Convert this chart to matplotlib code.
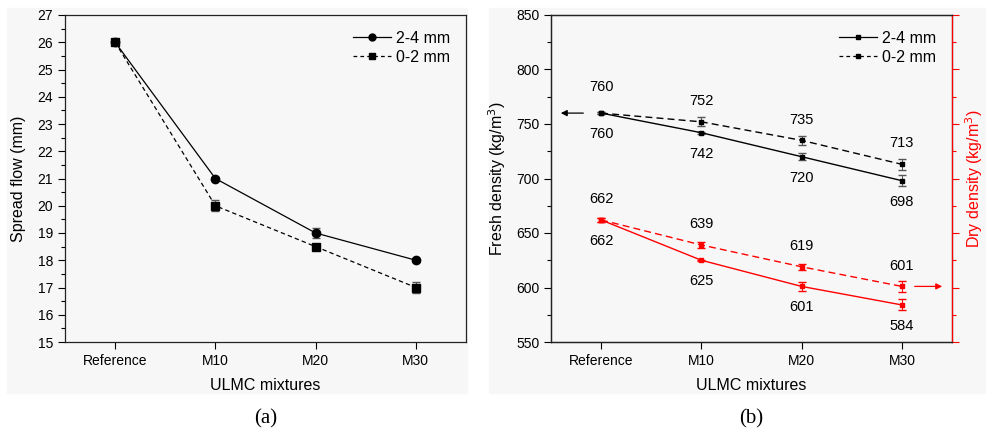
import numpy as np
import matplotlib
matplotlib.use('Agg')
import matplotlib.pyplot as plt
from matplotlib.lines import Line2D
from matplotlib.patches import Rectangle
from matplotlib.ticker import MultipleLocator

matplotlib.rcParams.update({
    'font.family': 'sans-serif',
    'font.sans-serif': ['Liberation Sans', 'DejaVu Sans'],
    'font.size': 10,
    'axes.linewidth': 0.9,
    'axes.edgecolor': '#222222',
    'xtick.direction': 'out',
    'ytick.direction': 'out',
})

# ── Data ─────────────────────────────────────────────────────────────────────
mixtures = ['Reference', 'M10', 'M20', 'M30']

# (a) spread flow, mm
flow_24 = [26.0, 21.0, 19.0, 18.0]
flow_24_err = [0.08, 0.05, 0.2, 0.06]
flow_02 = [26.0, 20.0, 18.5, 17.0]
flow_02_err = [0.08, 0.2, 0.06, 0.2]

# (b) fresh / dry density, kg/m3
fresh_24 = [760, 742, 720, 698]
fresh_24_err = [1, 1, 3, 5]
fresh_02 = [760, 752, 735, 713]
fresh_02_err = [1, 4, 4, 5]
dry_24 = [662, 625, 601, 584]
dry_24_err = [2, 0.5, 4, 5]
dry_02 = [662, 639, 619, 601]
dry_02_err = [2, 3, 3, 5]

RED = '#ff0000'
BG = '#f7f7f7'

fig = plt.figure(figsize=(9.87, 4.29), dpi=100)

# faint grey panel backgrounds (as in the scanned figure)
fig.patches.append(Rectangle((7 / 987, 36 / 429), 460 / 987, 385 / 429,
                             transform=fig.transFigure, color=BG, zorder=-10))
fig.patches.append(Rectangle((489 / 987, 36 / 429), 498 / 987, 385 / 429,
                             transform=fig.transFigure, color=BG, zorder=-10))

axA = fig.add_axes([65 / 987, 87 / 429, 401 / 987, 327 / 429])
axB = fig.add_axes([551 / 987, 87 / 429, 401 / 987, 327 / 429])
for ax in (axA, axB):
    ax.set_facecolor('none')

x = np.arange(len(mixtures))

# ─── Panel (a) ───────────────────────────────────────────────────────────────
axA.errorbar(x, flow_24, yerr=flow_24_err, color='black', lw=0.9, ls='-',
             marker='o', ms=6, capsize=3, elinewidth=0.7, ecolor='#555555')
axA.errorbar(x, flow_02, yerr=flow_02_err, color='black', lw=0.9, ls='--',
             dashes=(3.5, 2.5), marker='s', ms=5.5, capsize=3, elinewidth=0.7,
             ecolor='#555555')
axA.set_xlim(-0.5, 3.5)
axA.set_ylim(15, 27)
axA.yaxis.set_major_locator(MultipleLocator(1))
axA.yaxis.set_minor_locator(MultipleLocator(0.5))
axA.set_xticks(x)
axA.set_xticklabels(mixtures)
axA.tick_params(axis='both', which='major', length=5, width=0.8, labelsize=10)
axA.tick_params(axis='y', which='minor', length=3, width=0.8)
axA.set_xlabel('ULMC mixtures', fontsize=11.5, labelpad=7)
axA.set_ylabel('Spread flow (mm)', fontsize=11.5, labelpad=8)
hA = [Line2D([0], [0], color='black', lw=0.9, marker='o', ms=5, label='2-4 mm'),
      Line2D([0], [0], color='black', lw=0.9, ls='--', dashes=(3, 2.5),
             marker='s', ms=4.5, label='0-2 mm')]
axA.legend(handles=hA, loc='upper right', frameon=False, fontsize=11.5,
           handlelength=2.4, borderaxespad=0.6, labelspacing=0.25,
           handletextpad=0.3)

# ─── Panel (b) ───────────────────────────────────────────────────────────────
axR = axB.twinx()
axR.set_facecolor('none')
kw = dict(marker='s', ms=2.5, capsize=3, elinewidth=0.7, lw=1.0)
axB.errorbar(x, fresh_24, yerr=fresh_24_err, color='black', ls='-',
             ecolor='#555555', **kw)
axB.errorbar(x, fresh_02, yerr=fresh_02_err, color='black', ls='--',
             dashes=(5, 3), ecolor='#555555', **kw)
axR.errorbar(x, dry_24, yerr=dry_24_err, color=RED, ls='-', ecolor=RED, **kw)
axR.errorbar(x, dry_02, yerr=dry_02_err, color=RED, ls='--', dashes=(5, 3),
             ecolor=RED, **kw)

for ax in (axB, axR):
    ax.set_xlim(-0.5, 3.5)
    ax.set_ylim(550, 850)
    ax.yaxis.set_major_locator(MultipleLocator(50))
    ax.yaxis.set_minor_locator(MultipleLocator(25))

# value labels: 2-4 mm below, 0-2 mm above
lab = dict(ha='center', va='center', fontsize=10.5, textcoords='offset points')
for i in x:
    axB.annotate(f'{fresh_24[i]}', (i, fresh_24[i]), xytext=(0, -15), **lab)
    up = 19 if i == 0 else 15
    axB.annotate(f'{fresh_02[i]}', (i, fresh_02[i]), xytext=(0, up), **lab)
    axR.annotate(f'{dry_24[i]}', (i, dry_24[i]), xytext=(0, -15), **lab)
    axR.annotate(f'{dry_02[i]}', (i, dry_02[i]), xytext=(0, 15), **lab)

# axis-pointing arrows
axB.annotate('', xy=(-0.43, fresh_24[0]), xytext=(-0.15, fresh_24[0]),
             arrowprops=dict(arrowstyle='-|>', color='black', lw=0.9,
                             mutation_scale=9))
axR.annotate('', xy=(3.43, dry_02[-1]), xytext=(3.1, dry_02[-1]),
             arrowprops=dict(arrowstyle='-|>', color=RED, lw=0.9,
                             mutation_scale=9))

axB.set_xticks(x)
axB.set_xticklabels(mixtures)
axB.tick_params(axis='both', which='major', length=5, width=0.8, labelsize=10)
axB.tick_params(axis='y', which='minor', length=3, width=0.8)
axB.set_xlabel('ULMC mixtures', fontsize=11.5, labelpad=7)
axB.set_ylabel('Fresh density (kg/m$^3$)', fontsize=11.5, labelpad=6)

axR.spines['right'].set_color(RED)
axR.tick_params(axis='y', which='both', colors=RED, labelright=False)
axR.tick_params(axis='y', which='major', length=5, width=0.8)
axR.tick_params(axis='y', which='minor', length=3, width=0.8)
axR.set_ylabel('Dry density (kg/m$^3$)', fontsize=11.5, color=RED, labelpad=3)

hB = [Line2D([0], [0], color='black', lw=0.9, marker='s', ms=2.5, label='2-4 mm'),
      Line2D([0], [0], color='black', lw=0.9, ls='--', dashes=(3, 2.5),
             marker='s', ms=2.5, label='0-2 mm')]
axB.legend(handles=hB, loc='upper right', frameon=False, fontsize=11.5,
           handlelength=2.4, borderaxespad=0.6, labelspacing=0.25,
           handletextpad=0.3)

# captions
for ax, cap in [(axA, '(a)'), (axB, '(b)')]:
    ax.text(0.5, -0.235, cap, transform=ax.transAxes, ha='center', va='center',
            fontsize=15, family='Liberation Serif')

fig.savefig('out.png', dpi=100)
